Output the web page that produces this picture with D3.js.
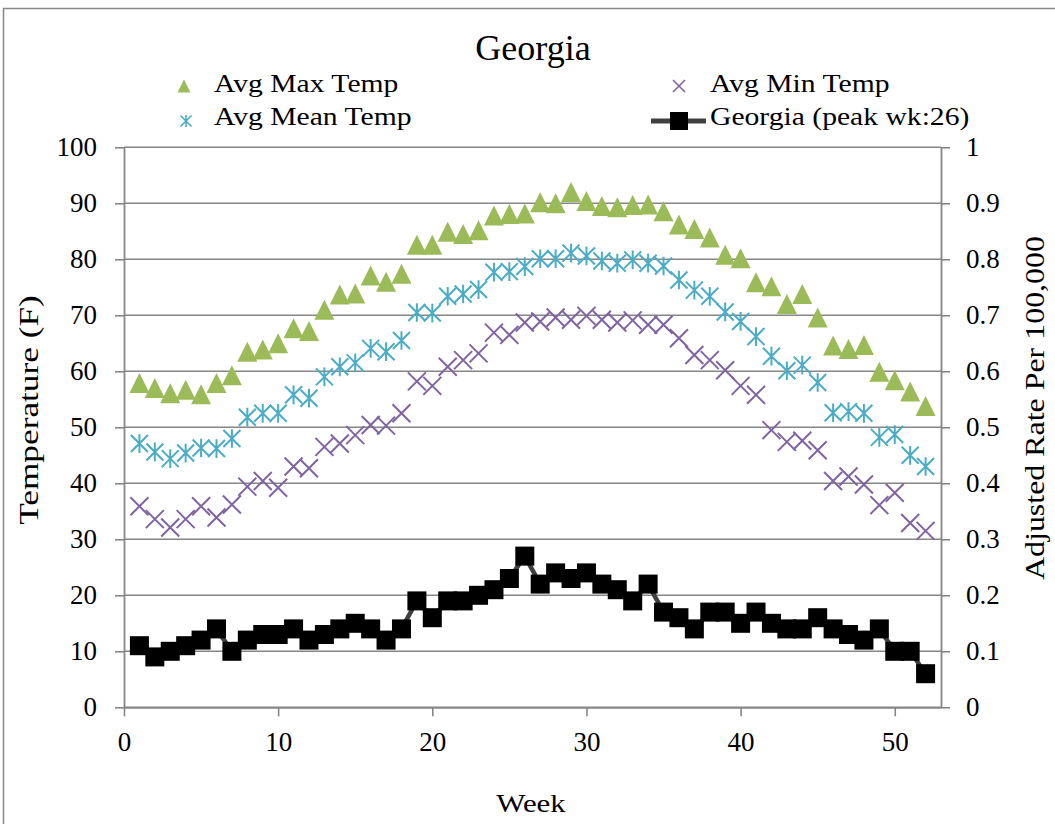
<!DOCTYPE html>
<html>
<head>
<meta charset="utf-8">
<script src="https://cdn.jsdelivr.net/npm/d3@7"></script>
<style>
  body { margin: 0; background: #fff; }
  svg { display: block; font-family: "Liberation Serif", "Times New Roman", serif; }
</style>
</head>
<body>
<div id="chart"></div>
<script>
// weekly values
const weeks = d3.range(1, 53);
const avgMax = [57.9, 57.0, 56.1, 56.7, 55.9, 57.9, 59.3, 63.5, 63.9, 65.0, 67.7, 67.2, 71.0, 73.7, 73.9, 77.1, 76.0, 77.4,
  82.6, 82.6, 84.9, 84.5, 85.2, 87.8, 88.1, 88.2, 90.2, 90.0, 92.0, 90.4, 89.5, 89.3, 89.7, 89.8, 88.6, 86.2, 85.4,
  83.9, 80.8, 80.2, 75.9, 75.2, 72.0, 73.8, 69.6, 64.6, 64.0, 64.7, 59.9, 58.4, 56.4, 53.8];
const avgMean = [47.1, 45.6, 44.4, 45.4, 46.3, 46.2, 48.0, 51.8, 52.5, 52.5, 55.8, 55.2, 59.0, 60.8, 61.5, 64.1, 63.5, 65.5,
  70.5, 70.4, 73.4, 73.8, 74.6, 77.7, 77.8, 78.7, 80.1, 80.1, 81.1, 80.6, 79.7, 79.3, 79.9, 79.3, 78.8, 76.3, 74.5,
  73.4, 70.6, 68.9, 66.2, 62.7, 60.1, 61.1, 58.0, 52.6, 52.8, 52.5, 48.2, 48.7, 45.0, 43.0];
const avgMin = [35.9, 33.6, 32.1, 33.6, 35.9, 33.9, 36.2, 39.4, 40.4, 39.2, 43.0, 42.7, 46.5, 47.1, 48.6, 50.4, 50.3, 52.5,
  58.2, 57.4, 60.8, 62.0, 63.2, 66.9, 66.5, 68.7, 68.9, 69.6, 69.2, 69.9, 69.2, 68.7, 69.1, 68.3, 68.3, 65.9, 62.9,
  62.0, 60.2, 57.4, 55.8, 49.5, 47.4, 47.6, 45.9, 40.4, 41.2, 39.8, 36.1, 38.3, 32.9, 31.5];
const georgiaRate = [0.11, 0.09, 0.10, 0.11, 0.12, 0.14, 0.10, 0.12, 0.13, 0.13, 0.14, 0.12, 0.13, 0.14, 0.15, 0.14, 0.12, 0.14,
  0.19, 0.16, 0.19, 0.19, 0.20, 0.21, 0.23, 0.27, 0.22, 0.24, 0.23, 0.24, 0.22, 0.21, 0.19, 0.22, 0.17, 0.16, 0.14,
  0.17, 0.17, 0.15, 0.17, 0.15, 0.14, 0.14, 0.16, 0.14, 0.13, 0.12, 0.14, 0.10, 0.10, 0.06];

const xTicks = [0, 10, 20, 30, 40, 50];
const leftTicks = d3.range(0, 101, 10);
const rightTicks = [0, 0.1, 0.2, 0.3, 0.4, 0.5, 0.6, 0.7, 0.8, 0.9, 1];

const width = 1055, height = 824;
const margin = {top: 147.3, right: 114, bottom: 116.7, left: 124};

const svg = d3.select("#chart").append("svg")
  .attr("width", width)
  .attr("height", height);

// outer chart frame
svg.append("rect")
  .attr("x", 3.5).attr("y", 8.5)
  .attr("width", 1070).attr("height", 840)
  .attr("fill", "none").attr("stroke", "#868686").attr("stroke-width", 1.5);

const x = d3.scaleLinear().domain([0, 53]).range([margin.left, width - margin.right]);
const y = d3.scaleLinear().domain([0, 100]).range([height - margin.bottom, margin.top]);
const y2 = d3.scaleLinear().domain([0, 1]).range([height - margin.bottom, margin.top]);

const axisColor = "#868686";

// gridlines
svg.append("g")
  .selectAll("line")
  .data(leftTicks)
  .join("line")
  .attr("x1", x(0)).attr("x2", x(53))
  .attr("y1", d => y(d)).attr("y2", d => y(d))
  .attr("stroke", axisColor).attr("stroke-width", 1.6);

function styleAxis(g) {
  g.select(".domain").attr("stroke", axisColor).attr("stroke-width", 1.8);
  g.selectAll(".tick line").attr("stroke", axisColor).attr("stroke-width", 1.6);
  g.selectAll("text").attr("font-size", 27).attr("fill", "#000")
    .attr("font-family", "Liberation Serif");
}

svg.append("g")
  .attr("transform", `translate(0,${y(0)})`)
  .call(d3.axisBottom(x).tickValues(xTicks).tickSize(9).tickSizeOuter(0).tickPadding(16))
  .call(styleAxis);

svg.append("g")
  .attr("transform", `translate(${x(0)},0)`)
  .call(d3.axisLeft(y).tickValues(leftTicks).tickSize(9).tickSizeOuter(0).tickPadding(18))
  .call(styleAxis);

svg.append("g")
  .attr("transform", `translate(${x(53)},0)`)
  .call(d3.axisRight(y2).tickValues(rightTicks).tickSize(9).tickSizeOuter(0).tickPadding(16)
    .tickFormat(d => d3.format("")(+d.toFixed(1))))
  .call(styleAxis);

// marker shapes
function triPath(s) {
  return `M0,${-s / 2}L${s / 2},${s / 2}L${-s / 2},${s / 2}Z`;
}
function xPath(s) {
  const h = s / 2;
  return `M${-h},${-h}L${h},${h}M${-h},${h}L${h},${-h}`;
}
function starPath(s) {
  const h = s / 2;
  return `M${-h},${-h}L${h},${h}M${-h},${h}L${h},${-h}M0,${-h * 1.1}L0,${h * 1.1}`;
}

const green = "#9BBB59", cyan = "#4BACC6", purple = "#8064A2";

// Avg Max Temp
svg.append("g").selectAll("path")
  .data(weeks)
  .join("path")
  .attr("transform", (d, i) => `translate(${x(d)},${y(avgMax[i])})`)
  .attr("d", triPath(20))
  .attr("fill", green);

// Avg Mean Temp
svg.append("g").selectAll("path")
  .data(weeks)
  .join("path")
  .attr("transform", (d, i) => `translate(${x(d)},${y(avgMean[i])})`)
  .attr("d", starPath(17))
  .attr("fill", "none").attr("stroke", cyan).attr("stroke-width", 2);

// Avg Min Temp
svg.append("g").selectAll("path")
  .data(weeks)
  .join("path")
  .attr("transform", (d, i) => `translate(${x(d)},${y(avgMin[i])})`)
  .attr("d", xPath(18))
  .attr("fill", "none").attr("stroke", purple).attr("stroke-width", 2);

// Georgia rate line + squares
const line = d3.line().x((d, i) => x(weeks[i])).y(d => y2(d));
svg.append("path")
  .datum(georgiaRate)
  .attr("d", line)
  .attr("fill", "none").attr("stroke", "#404040").attr("stroke-width", 4.5);

svg.append("g").selectAll("rect")
  .data(georgiaRate)
  .join("rect")
  .attr("x", (d, i) => x(weeks[i]) - 9.5)
  .attr("y", d => y2(d) - 9.5)
  .attr("width", 19).attr("height", 19)
  .attr("fill", "#000");

// titles (the original text is a bit stretched along its run)
svg.append("text")
  .attr("x", 533).attr("y", 60)
  .attr("text-anchor", "middle").attr("font-size", 36)
  .text("Georgia");

svg.append("text")
  .attr("transform", "translate(531,812) scale(1.19,1)")
  .attr("text-anchor", "middle").attr("font-size", 26)
  .text("Week");

svg.append("text")
  .attr("transform", "translate(38,410) rotate(-90) scale(1.26,1)")
  .attr("text-anchor", "middle").attr("font-size", 28)
  .text("Temperature (F)");

svg.append("text")
  .attr("transform", "translate(1044,408) rotate(-90) scale(1.14,1)")
  .attr("text-anchor", "middle").attr("font-size", 28)
  .text("Adjusted Rate Per 100,000");

// legend
const legend = svg.append("g").attr("font-size", 26);
function legendText(tx, ty, label) {
  legend.append("text").attr("transform", `translate(${tx},${ty}) scale(1.14,1)`).text(label);
}
legend.append("path").attr("transform", "translate(184,86)").attr("d", triPath(13)).attr("fill", green);
legendText(214, 92, "Avg Max Temp");
legend.append("path").attr("transform", "translate(186,121)").attr("d", starPath(11))
  .attr("fill", "none").attr("stroke", cyan).attr("stroke-width", 1.6);
legendText(214, 125, "Avg Mean Temp");
legend.append("path").attr("transform", "translate(679,86)").attr("d", xPath(12))
  .attr("fill", "none").attr("stroke", purple).attr("stroke-width", 1.6);
legendText(710, 92, "Avg Min Temp");
legend.append("line").attr("x1", 651).attr("x2", 706).attr("y1", 121).attr("y2", 121)
  .attr("stroke", "#404040").attr("stroke-width", 5);
legend.append("rect").attr("x", 670).attr("y", 112).attr("width", 18).attr("height", 18).attr("fill", "#000");
legendText(710, 125, "Georgia (peak wk:26)");
</script>
</body>
</html>
